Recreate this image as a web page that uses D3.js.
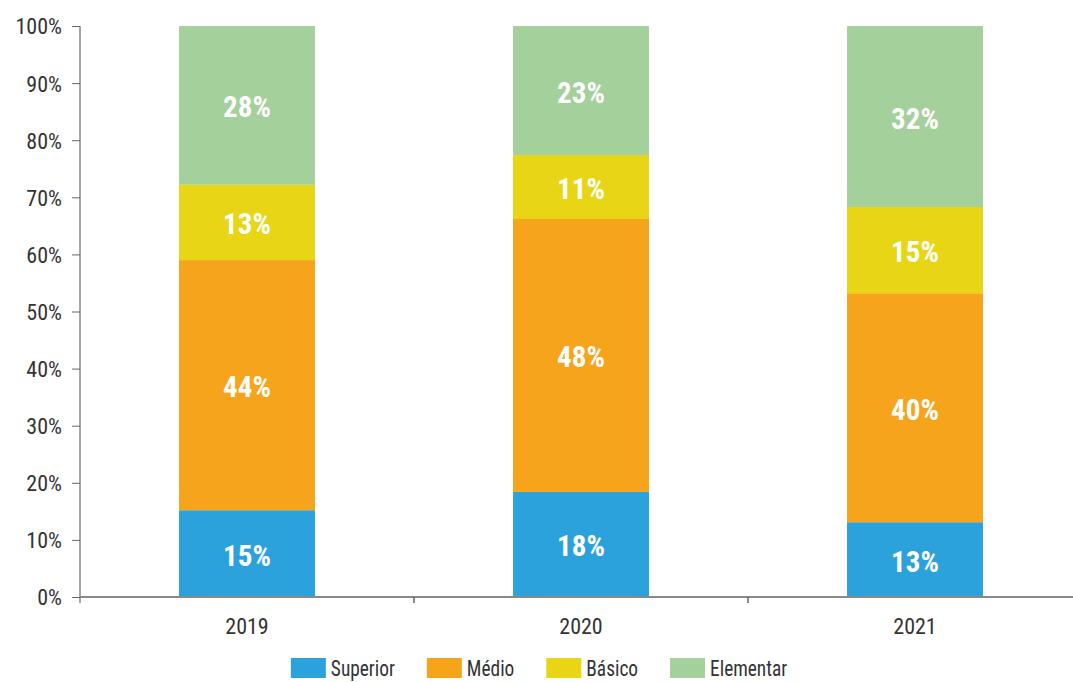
<!DOCTYPE html>
<html>
<head>
<meta charset="utf-8">
<script src="https://cdn.jsdelivr.net/npm/d3@7"></script>
<style>
  body { margin: 0; background: #fff; }
  text { font-family: "Liberation Sans Narrow", "Roboto Condensed", Roboto, sans-serif; }
</style>
</head>
<body>
<svg id="chart" width="1073" height="682"></svg>
<script>
// data (percent of each year)
const years = ['2019', '2020', '2021'];
const levels = ['Superior', 'Médio', 'Básico', 'Elementar'];
const superior = [15.2, 18.4, 13.1];
const medio = [43.8, 47.8, 40.1];
const basico = [13.2, 11.2, 15.1];
const elementar = [27.8, 22.6, 31.7];
const labels = {
    'Superior': ['15%', '18%', '13%'],
    'Médio': ['44%', '48%', '40%'],
    'Básico': ['13%', '11%', '15%'],
    'Elementar': ['28%', '23%', '32%']
};
const yTicks = [0, 10, 20, 30, 40, 50, 60, 70, 80, 90, 100];
const colors = ['#2ca2dc', '#f7a41d', '#e8d516', '#a4d09b'];

const rows = years.map(function(y, i) {
    return { year: y, 'Superior': superior[i], 'Médio': medio[i], 'Básico': basico[i], 'Elementar': elementar[i] };
});

const svg = d3.select('#chart');
const plotLeft = 80, plotBottom = 597, plotTop = 26;

let x = d3.scaleBand()
    .domain(years)
    .range([plotLeft, 1082])
    .padding(0);
let barW = x.bandwidth() * 0.407;

let y = d3.scaleLinear()
    .domain([0, 100])
    .range([plotBottom, plotTop]);

let color = d3.scaleOrdinal().domain(levels).range(colors);

let series = d3.stack().keys(levels)(rows);

// bars
let groups = svg.selectAll('g.layer')
    .data(series)
    .enter()
    .append('g')
    .attr('class', 'layer')
    .attr('fill', function(d) { return color(d.key); });

groups.selectAll('rect')
    .data(function(d) { return d; })
    .enter()
    .append('rect')
    .attr('x', function(d) { return x(d.data.year) + (x.bandwidth() - barW) / 2; })
    .attr('y', function(d) { return y(d[1]); })
    .attr('width', barW)
    .attr('height', function(d) { return y(d[0]) - y(d[1]); });

// value labels
series.forEach(function(s) {
    svg.selectAll(null)
        .data(s)
        .enter()
        .append('text')
        .attr('x', function(d) { return x(d.data.year) + x.bandwidth() / 2; })
        .attr('y', function(d) { return (y(d[0]) + y(d[1])) / 2 + 12; })
        .attr('text-anchor', 'middle')
        .attr('fill', '#fff')
        .attr('font-weight', 'bold')
        .attr('font-size', 29)
        .text(function(d, i) { return labels[s.key][i]; });
});

// y axis
let yAxis = svg.append('g')
    .attr('transform', 'translate(' + plotLeft + ',0)')
    .call(d3.axisLeft(y).tickValues(yTicks).tickSize(8).tickPadding(10)
        .tickFormat(function(d) { return d + '%'; }));
yAxis.select('.domain').attr('stroke', '#888').attr('stroke-width', 1.5).attr('d', 'M0,' + (plotBottom + 6) + 'V' + plotTop);
yAxis.selectAll('.tick line').attr('stroke', '#666');
yAxis.selectAll('.tick text').attr('fill', '#333').attr('font-size', 22).attr('dy', '0.36em');

// x axis
let xAxis = svg.append('g')
    .attr('transform', 'translate(0,' + plotBottom + ')')
    .call(d3.axisBottom(x).tickSize(0).tickPadding(21));
xAxis.select('.domain').attr('stroke', '#888').attr('stroke-width', 2).attr('d', 'M' + plotLeft + ',0H1073');
xAxis.selectAll('.tick text').attr('fill', '#333').attr('font-size', 22);

// category separators below the axis
svg.append('g').selectAll('line')
    .data(years.slice(1))
    .enter()
    .append('line')
    .attr('x1', function(d) { return x(d); })
    .attr('x2', function(d) { return x(d); })
    .attr('y1', plotBottom)
    .attr('y2', plotBottom + 6)
    .attr('stroke', '#666')
    .attr('stroke-width', 1.5);

// legend
let legend = svg.append('g');
let offset = 0;
levels.forEach(function(k) {
    let item = legend.append('g').attr('transform', 'translate(' + offset + ',0)');
    item.append('rect')
        .attr('width', 35)
        .attr('height', 20)
        .attr('y', 658)
        .attr('fill', color(k));
    let t = item.append('text')
        .attr('x', 40)
        .attr('y', 676)
        .attr('fill', '#333')
        .attr('font-size', 22)
        .text(k);
    // the original face is narrower, squeeze a bit
    let w = t.node().getComputedTextLength() * 0.88;
    t.attr('textLength', w).attr('lengthAdjust', 'spacingAndGlyphs');
    offset += 40 + w + 32;
});
let legendW = offset - 32;
legend.attr('transform', 'translate(' + (539 - legendW / 2) + ',0)');
</script>
</body>
</html>
